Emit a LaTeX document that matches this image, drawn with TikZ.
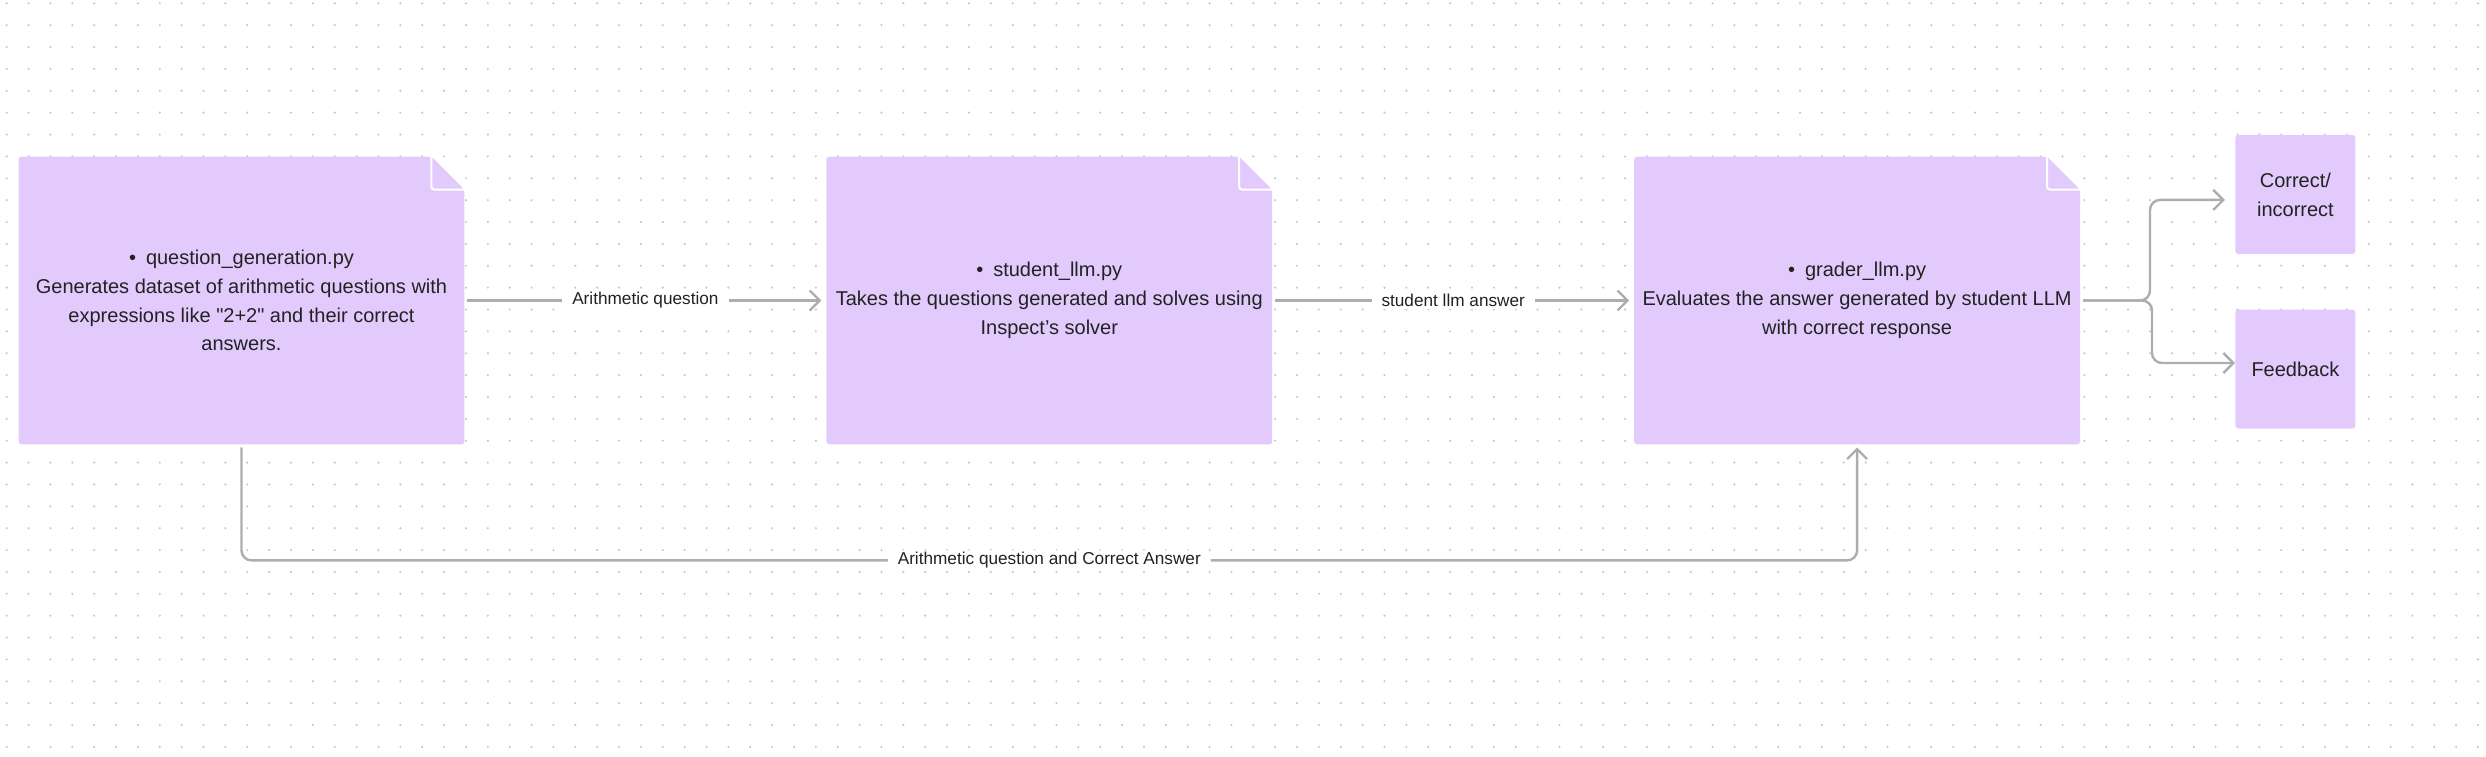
\documentclass[tikz,border=0pt]{standalone}
\usepackage{fontspec}
\setmainfont{Liberation Sans}[Ligatures=TeXOff]
\usetikzlibrary{arrows.meta,positioning,backgrounds}
\definecolor{notefill}{HTML}{E2CBFC}
\definecolor{flowgray}{HTML}{ADADAD}
\definecolor{inkdark}{HTML}{222222}
\definecolor{dotgray}{HTML}{C8C8C8}
\tikzset{
  >={Straight Barb[length=5pt,width=10pt]},
  note/.style={minimum width=222.5pt, minimum height=143.5pt, inner sep=0pt, align=center, text=inkdark, font=\fontsize{10}{14.35}\selectfont},
  outcome/.style={fill=notefill, rounded corners=1.5pt, minimum width=60pt, minimum height=59.5pt, inner sep=0pt, align=center, text=inkdark, font=\fontsize{10}{14.35}\selectfont},
  flow/.style={draw=flowgray, line width=1.2pt, ->},
  lbl/.style={fill=white, inner xsep=5pt, inner ysep=1pt, text=inkdark, font=\fontsize{8.6}{10}\selectfont},
}

\begin{document}
\begin{tikzpicture}[x=0.5pt, y=-0.5pt]
  \useasboundingbox (0,0) rectangle (2486,756);

  \node[note] (qgen) at (241.5,300.5) {\textbullet\hspace{5pt}question\_generation.py\\Generates dataset of arithmetic questions with\\expressions like "2+2" and their correct\\answers.};
  \node[note, right=181pt of qgen] (student) {\textbullet\hspace{5pt}student\_llm.py\\Takes the questions generated and solves using\\Inspect’s solver};
  \node[note, right=181pt of student] (grader) {\textbullet\hspace{5pt}grader\_llm.py\\Evaluates the answer generated by student LLM\\with correct response};
  \node[outcome, right=77.5pt of grader, yshift=53pt] (correct) {Correct/\\incorrect};
  \node[outcome, right=77.5pt of grader, yshift=-34.25pt] (feedback) {Feedback};

  % dotted canvas and note sheets
  \begin{scope}[on background layer]
    \foreach \i in {0,...,113}
      \foreach \j in {0,...,34}
        \fill[dotgray] (6.7+21.87*\i, 3.3+21.87*\j) circle (0.6pt);
    \foreach \n in {qgen,student,grader} {
      \fill[notefill, rounded corners=1.5pt] (\n.south west) -- (\n.north west) -- ([xshift=-16.5pt]\n.north east) -- ([yshift=-16.5pt]\n.north east) -- (\n.south east) -- cycle;
      \draw[white, line width=1pt, rounded corners=1.5pt] ([xshift=-16.5pt]\n.north east) |- ([yshift=-16.5pt]\n.north east);
    }
  \end{scope}

  \draw[flow, shorten <=1.5pt, shorten >=2.5pt] (qgen) -- node[lbl] {Arithmetic question} (student);
  \draw[flow, shorten <=1.5pt, shorten >=2.5pt] (student) -- node[lbl] {student llm answer} (grader);
  \draw[flow, rounded corners=5pt, shorten <=1.5pt, shorten >=5pt] (grader.east) -- ++(70,0) |- ([yshift=-2.7pt]correct.west);
  \draw[flow, rounded corners=5pt, shorten <=1.5pt] (grader.east) -- ++(72,0) |- ([yshift=3pt]feedback.west);
  \draw[flow, rounded corners=5pt, shorten <=1.5pt, shorten >=1.5pt] (qgen.south) -- ++(0,116) -| node[lbl, pos=0.25] {Arithmetic question and Correct Answer} (grader.south);
\end{tikzpicture}
\end{document}
